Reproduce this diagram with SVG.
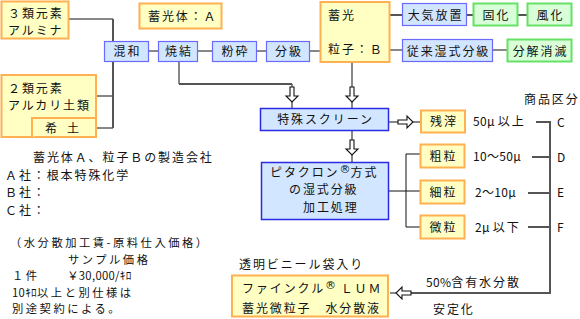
<svg xmlns="http://www.w3.org/2000/svg" xmlns:xlink="http://www.w3.org/1999/xlink" width="580" height="319" viewBox="0 0 580 319">
<style>
text{font-family:"Noto Sans CJK JP","Noto Sans",sans-serif;font-size:12px;fill:#111;letter-spacing:1.9px}
.m{text-anchor:middle}
.s{font-size:11.3px;letter-spacing:2.5px}
.n{letter-spacing:0.3px}
.ob{fill:#ffffc4;stroke:#ffb050;stroke-width:2}
.bb{fill:#d2e6ff;stroke:#6a6aff;stroke-width:1.2}
.bd{fill:#d2e6ff;stroke:#2a2ae0;stroke-width:1.5}
.gb{fill:#d8ffd8;stroke:#66e066;stroke-width:2}
.th{fill:none;stroke:#111;stroke-width:1}
.tk{fill:none;stroke:#555;stroke-width:2}
.ar{fill:#fff;stroke:#111;stroke-width:1.1}
.sup{font-family:"DejaVu Sans",sans-serif;font-size:11px;letter-spacing:0}
</style>
<defs>
<path id="ha" d="M-2,-15H2V-6H6L0,0L-6,-6H-2Z"/>
</defs>
<g id="connectors">
<path class="th" d="M69,19H113M96,96H113M96,128H113M149,51H158M198,51H212M257,51H266M310,51H320M390,50H402M493,50H507M179,62V84M292,84V87M292,102V108M352,62V87M352,102V108M352,130V140M352,155V162M389,122H398M413,122H421M389,191H406M406,154V227M406,154H420M406,191H420M406,227H420M396,293H390"/>
<path class="tk" d="M113,19V128M179,84H292M390,15H402M467,15H473M518,15H527M536,122H550V293H411M532,157H550M528,193H550M528,227H550"/>
<use xlink:href="#ha" class="ar" transform="translate(292,102)"/>
<use xlink:href="#ha" class="ar" transform="translate(352,102)"/>
<use xlink:href="#ha" class="ar" transform="translate(352,155)"/>
<use xlink:href="#ha" class="ar" transform="translate(413,122) rotate(-90)"/>
<use xlink:href="#ha" class="ar" transform="translate(396,293) rotate(90)"/>
</g>
<g id="n-alumina"><rect class="ob" x="1.5" y="1.5" width="67" height="37"/><text x="8" y="17.5">３類元素</text><text x="8" y="35">アルミナ</text></g>
<g id="n-alkali"><rect class="ob" x="1.5" y="75" width="94.5" height="62"/><text x="8" y="92.5">２類元素</text><text x="8" y="110">アルカリ土類</text></g>
<g id="n-kido"><path class="ob" d="M32,137V118H96"/><text x="45 58 67" y="133">希 土</text></g>
<g id="n-konwa"><rect class="bb" x="104.5" y="41.5" width="44" height="20"/><text class="m" x="127.5" y="56">混和</text></g>
<g id="n-shoketsu"><rect class="bb" x="158.5" y="41.5" width="39" height="20"/><text class="m" x="179" y="56">焼結</text></g>
<g id="n-funsai"><rect class="bb" x="212.5" y="41.5" width="44" height="20"/><text class="m" x="235.5" y="56">粉砕</text></g>
<g id="n-bunkyu"><rect class="bb" x="266.5" y="41.5" width="43" height="20"/><text class="m" x="289" y="56">分級</text></g>
<g id="n-a"><rect class="ob" x="139.5" y="3.5" width="82" height="25"/><text x="148" y="21">蓄光体：Ａ</text></g>
<g id="n-b"><rect class="ob" x="320.5" y="2" width="69" height="60"/><text x="328" y="20">蓄光</text><text x="328" y="54">粒子：Ｂ</text></g>
<g id="n-taiki"><rect class="bb" x="402.5" y="3.5" width="64" height="22"/><text class="m" x="435.5" y="20">大気放置</text></g>
<g id="n-koka"><rect class="gb" x="473.5" y="3.5" width="44" height="22"/><text class="m" x="496.5" y="20">固化</text></g>
<g id="n-fuka"><rect class="gb" x="527.5" y="3.5" width="44" height="22"/><text class="m" x="550.5" y="20">風化</text></g>
<g id="n-jurai"><rect class="bb" x="402.5" y="39.5" width="90" height="22"/><text class="m" x="448.5" y="56">従来湿式分級</text></g>
<g id="n-bunkai"><rect class="gb" x="507.5" y="39.5" width="64" height="22"/><text class="m" x="540.5" y="56">分解消滅</text></g>
<g id="n-screen"><rect class="bd" x="260.5" y="108.5" width="128" height="22"/><text class="m" x="325.5" y="124">特殊スクリーン</text></g>
<g id="n-zansa"><rect class="ob" x="421" y="110.5" width="44" height="22"/><text class="m" x="444" y="126">残滓</text></g>
<g id="n-pitakuron"><rect class="bd" x="261.5" y="162.5" width="127" height="57"/><text x="270" y="176.5">ピタクロン<tspan class="sup" dy="-4">®</tspan><tspan dy="4">方式</tspan></text><text x="289" y="194">の湿式分級</text><text x="303" y="211.5">加工処理</text></g>
<g id="n-sorryu"><rect class="ob" x="420.5" y="144.5" width="44" height="23"/><text class="m" x="443.5" y="161">粗粒</text></g>
<g id="n-sairyu"><rect class="ob" x="420.5" y="180.5" width="44" height="23"/><text class="m" x="443.5" y="197">細粒</text></g>
<g id="n-biryu"><rect class="ob" x="420.5" y="215.5" width="44" height="23"/><text class="m" x="443.5" y="232">微粒</text></g>
<g id="n-lum"><rect class="ob" x="232" y="275.5" width="156" height="41"/><text x="242" y="293">ファインクル<tspan class="sup" dy="-4">®</tspan><tspan dy="4"> ＬＵＭ</tspan></text><text x="242" y="313">蓄光微粒子　水分散液</text></g>
<g id="labels">
<text x="473" y="126"><tspan class="n">50μ </tspan>以上</text>
<text x="473" y="161" class="n">10〜50μ</text>
<text x="475" y="197" class="n">2〜10μ</text>
<text x="475" y="232"><tspan class="n">2μ </tspan>以下</text>
<text x="557" y="127">C</text>
<text x="557" y="162">D</text>
<text x="557" y="197">E</text>
<text x="557" y="232">F</text>
<text x="524" y="104">商品区分</text>
<text x="239" y="269">透明ビニール袋入り</text>
<text x="426" y="287"><tspan class="n">50%</tspan>含有水分散</text>
<text x="433" y="314">安定化</text>
<text x="33" y="162">蓄光体Ａ、粒子Ｂの製造会社</text>
<text x="5" y="179.5">Ａ社：根本特殊化学</text>
<text x="5" y="197">Ｂ社：</text>
<text x="5" y="214.5">Ｃ社：</text>
<text class="s" x="10" y="247">（水分散加工賃-原料仕入価格）</text>
<text class="s" x="68" y="263.5">サンプル価格</text>
<text class="s" x="12" y="280">１件　　<tspan class="n">￥30,000/ｷﾛ</tspan></text>
<text class="s" x="12" y="296.5"><tspan class="n">10ｷﾛ</tspan>以上と別仕様は</text>
<text class="s" x="12" y="313">別途契約による。</text>
</g>
</svg>
